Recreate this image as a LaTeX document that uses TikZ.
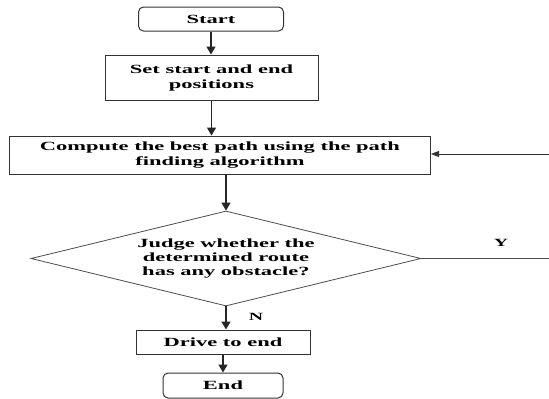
\documentclass[tikz,border=0pt]{standalone}
\usepackage{fontspec}
\setmainfont{Liberation Serif}[FakeStretch=1.8]
\usetikzlibrary{shapes.geometric,arrows.meta}
\begin{document}
\begin{tikzpicture}[x=1pt,y=-1pt,
  font=\fontsize{12.5}{15}\selectfont\bfseries,
  box/.style={draw=black!80, line width=1pt, align=center, inner sep=0pt},
  term/.style={box, rounded corners=5pt},
  dec/.style={draw=black!70, line width=0.8pt, diamond, inner sep=0pt, align=center,
    shape aspect=4.1, minimum width=390pt, minimum height=95pt},
  arr/.style={-{Triangle[length=8pt,width=9pt]}, line width=1.4pt, black!85},
  arrs/.style={-{Triangle[length=8pt,width=6pt]}, line width=1pt, black!80},
  lbl/.style={font=\fontsize{11}{13}\selectfont\bfseries}
]
\useasboundingbox (0,0) rectangle (549,399);
\node[term, minimum width=145pt, minimum height=24pt] (start) at (211,19) {Start};
\node[box, minimum width=213pt, minimum height=45pt] (set) at (211.5,77.5) {Set start and end\\positions};
\node[box, minimum width=421pt, minimum height=38pt] (comp) at (220,155) {Compute the best path using the path\\finding algorithm};
\node[dec, font=\fontsize{12.5}{13.7}\selectfont\bfseries] (judge) at (226,258.5) {Judge whether the\\determined route\\has any obstacle?};
\node[box, minimum width=174pt, minimum height=24pt] (drive) at (223,342) {Drive to end};
\node[term, minimum width=120pt, minimum height=25pt] (end) at (223,385.5) {End};
\coordinate (yr) at (549,258.5);
\coordinate (cr) at (549,154);
\draw[arr] (start.south) -- (start.south |- set.north);
\draw[arr] (set.south) -- (set.south |- comp.north);
\draw[arr] (judge.north |- comp.south) -- (judge.north);
\draw[arr] (judge.south) -- (judge.south |- drive.north);
\draw[arr] (drive.south) -- (drive.south |- end.north);
\draw[line width=0.8pt, black!70] (judge.east) -- (judge.east -| yr);
\draw[arrs] (cr) -- (cr -| comp.east);
\node[lbl] (ylab) at (501,243) {Y};
\node[lbl] (nlab) at (256,317) {N};
\end{tikzpicture}
\end{document}
